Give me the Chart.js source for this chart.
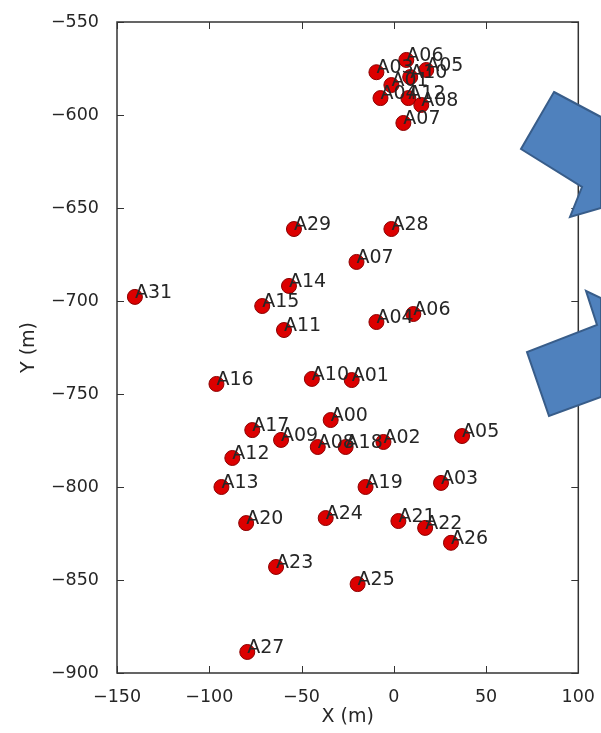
<!DOCTYPE html>
<html>
<head>
<meta charset="utf-8">
<script src="https://cdn.jsdelivr.net/npm/chart.js@4"></script>
<style>
  html, body { margin: 0; padding: 0; background: #fff; }
  #wrap { width: 601px; height: 733px; }
</style>
</head>
<body>
<div id="wrap"><canvas id="grafica"></canvas></div>
<script>
// station names, X (m), Y (m)
const names = ['A03','A06','A05','A10','A01','A12','A04','A08','A07',
  'A29','A28','A07','A14','A31','A15','A06','A04','A11',
  'A16','A10','A01','A00','A17','A09','A08','A18','A02','A05','A12',
  'A13','A19','A03','A24','A20','A21','A22','A26','A23','A25','A27'];
const xs = [-9.4, 6.8, 17.6, 8.9, -1.3, 7.9, -7.2, 14.9, 5.2,
  -54.1, -1.3, -20.2, -56.8, -140.3, -71.3, 10.6, -9.4, -59.5,
  -96.1, -44.4, -22.8, -34.2, -76.7, -61.1, -41.2, -26.1, -5.6, 37, -87.5,
  -93.4, -15.3, 25.6, -36.9, -80, 2.5, 17, 31, -63.8, -19.6, -79.4];
const ys = [-577, -570.4, -575.8, -579.6, -583.9, -590.9, -590.9, -594.6, -604.3,
  -661.3, -661.3, -679, -691.9, -697.8, -702.7, -707, -711.3, -715.6,
  -744.6, -741.9, -742.5, -764, -769.4, -774.7, -778.5, -778.5, -775.8, -772.6, -784.4,
  -800, -800, -797.8, -816.7, -819.4, -818.3, -822, -830, -843, -852.2, -888.7];

const xTicks = [-150, -100, -50, 0, 50, 100];
const yTicks = [-900, -850, -800, -750, -700, -650, -600, -550];

const puntos = xs.map((x, i) => ({ x: x, y: ys[i] }));
const menos = v => (v < 0 ? '\u2212' + Math.abs(v) : String(v));

// etiquetas junto a cada punto
const etiquetas = {
  id: 'etiquetas',
  afterDatasetsDraw(chart) {
    const ctx = chart.ctx;
    const meta = chart.getDatasetMeta(0);
    ctx.save();
    ctx.font = '19px "DejaVu Sans"';
    ctx.fillStyle = '#262626';
    ctx.textBaseline = 'alphabetic';
    ctx.textAlign = 'left';
    meta.data.forEach((p, i) => {
      ctx.fillText(names[i], p.x, p.y + 1);
    });
    ctx.restore();
  }
};

// caja del eje con ticks hacia dentro
const caja = {
  id: 'caja',
  afterDraw(chart) {
    const ctx = chart.ctx;
    const a = chart.chartArea;
    const sx = chart.scales.x, sy = chart.scales.y;
    ctx.save();
    ctx.strokeStyle = '#333';
    ctx.lineWidth = 1.5;
    ctx.strokeRect(a.left, a.top, a.right - a.left, a.bottom - a.top);
    ctx.lineWidth = 1;
    ctx.beginPath();
    xTicks.forEach(v => {
      const px = Math.round(sx.getPixelForValue(v)) + 0.5;
      ctx.moveTo(px, a.bottom); ctx.lineTo(px, a.bottom - 7);
      ctx.moveTo(px, a.top); ctx.lineTo(px, a.top + 7);
    });
    yTicks.forEach(v => {
      const py = Math.round(sy.getPixelForValue(v)) + 0.5;
      ctx.moveTo(a.left, py); ctx.lineTo(a.left + 7, py);
      ctx.moveTo(a.right, py); ctx.lineTo(a.right - 7, py);
    });
    ctx.stroke();
    ctx.restore();
  }
};

// flechas azules pegadas encima de la figura
const flechas = {
  id: 'flechas',
  afterDraw(chart) {
    const ctx = chart.ctx;
    const formas = [
      [[554, 92], [601, 117], [601, 208], [570, 217], [582, 187], [521, 149]],
      [[586, 291], [601, 298], [601, 397], [549, 416], [527, 352], [597, 325]]
    ];
    ctx.save();
    ctx.fillStyle = '#4f81bd';
    ctx.strokeStyle = '#385d8a';
    ctx.lineWidth = 2;
    ctx.lineJoin = 'miter';
    formas.forEach(f => {
      ctx.beginPath();
      f.forEach((pt, i) => (i ? ctx.lineTo(pt[0], pt[1]) : ctx.moveTo(pt[0], pt[1])));
      ctx.closePath();
      ctx.fill();
      ctx.stroke();
    });
    ctx.restore();
  }
};

const ctx = document.getElementById('grafica').getContext('2d');
new Chart(ctx, {
  type: 'scatter',
  data: {
    datasets: [{
      label: 'estaciones',
      data: puntos,
      backgroundColor: '#dc0000',
      borderColor: '#8a0000',
      borderWidth: 1,
      pointRadius: 7.5,
      pointHoverRadius: 7.5
    }]
  },
  options: {
    responsive: true,
    maintainAspectRatio: false,
    animation: false,
    events: [],
    layout: { padding: { top: 22, right: 20, left: 0, bottom: 0 } },
    plugins: {
      legend: { display: false },
      tooltip: { enabled: false }
    },
    scales: {
      x: {
        type: 'linear',
        min: -150,
        max: 100,
        afterBuildTicks: s => { s.ticks = xTicks.map(v => ({ value: v })); },
        afterFit: s => { s.height = 60; },
        grid: { display: false },
        border: { display: false },
        ticks: {
          padding: 6,
          color: '#262626',
          font: { family: 'DejaVu Sans', size: 17.5 },
          maxRotation: 0,
          callback: menos
        },
        title: {
          display: true,
          text: 'X (m)',
          color: '#262626',
          font: { family: 'DejaVu Sans', size: 19 },
          padding: { top: 0, bottom: 5 }
        }
      },
      y: {
        type: 'linear',
        min: -900,
        max: -550,
        afterBuildTicks: s => { s.ticks = yTicks.map(v => ({ value: v })); },
        afterFit: s => { s.width = 117; },
        grid: { display: false },
        border: { display: false },
        ticks: {
          padding: 10,
          color: '#262626',
          font: { family: 'DejaVu Sans', size: 17.5 },
          callback: menos
        },
        title: {
          display: true,
          text: 'Y (m)',
          color: '#262626',
          font: { family: 'DejaVu Sans', size: 19 },
          padding: { top: 18, bottom: 0 }
        }
      }
    }
  },
  plugins: [etiquetas, caja, flechas]
});
</script>
</body>
</html>
